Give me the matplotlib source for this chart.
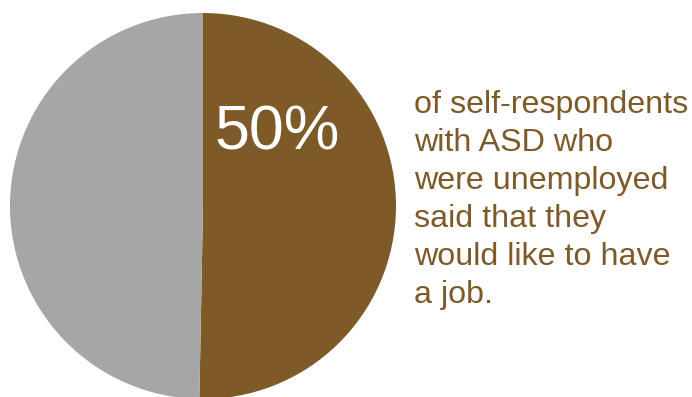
import matplotlib.pyplot as plt

plt.rcParams['font.family'] = ['Liberation Sans', 'DejaVu Sans']

# share of unemployed self-respondents wanting a job (brown) vs rest (grey)
shares = [50.3, 49.7]
colors = ['#7d5a28', '#a6a6a6']
big_label = '50%'
caption_lines = [
    'of self-respondents',
    'with ASD who',
    'were unemployed',
    'said that they',
    'would like to have',
    'a job.',
]

W, H = 692, 397
fig = plt.figure(figsize=(W / 100, H / 100), dpi=100)
ax = fig.add_axes([0, 0, 1, 1])

ax.pie(shares, colors=colors, startangle=90, counterclock=False,
       center=(203, H - 206), radius=193, frame=True,
       wedgeprops=dict(linewidth=0))
ax.set_xlim(0, W)
ax.set_ylim(0, H)
ax.axis('off')

ax.text(214, H - 150, big_label, color='white', fontsize=45,
        ha='left', va='baseline')

for i, line in enumerate(caption_lines):
    ax.text(414, H - (113 + 38 * i), line, color=colors[0], fontsize=23.2,
            ha='left', va='baseline')

fig.savefig('out.png', dpi=100)
